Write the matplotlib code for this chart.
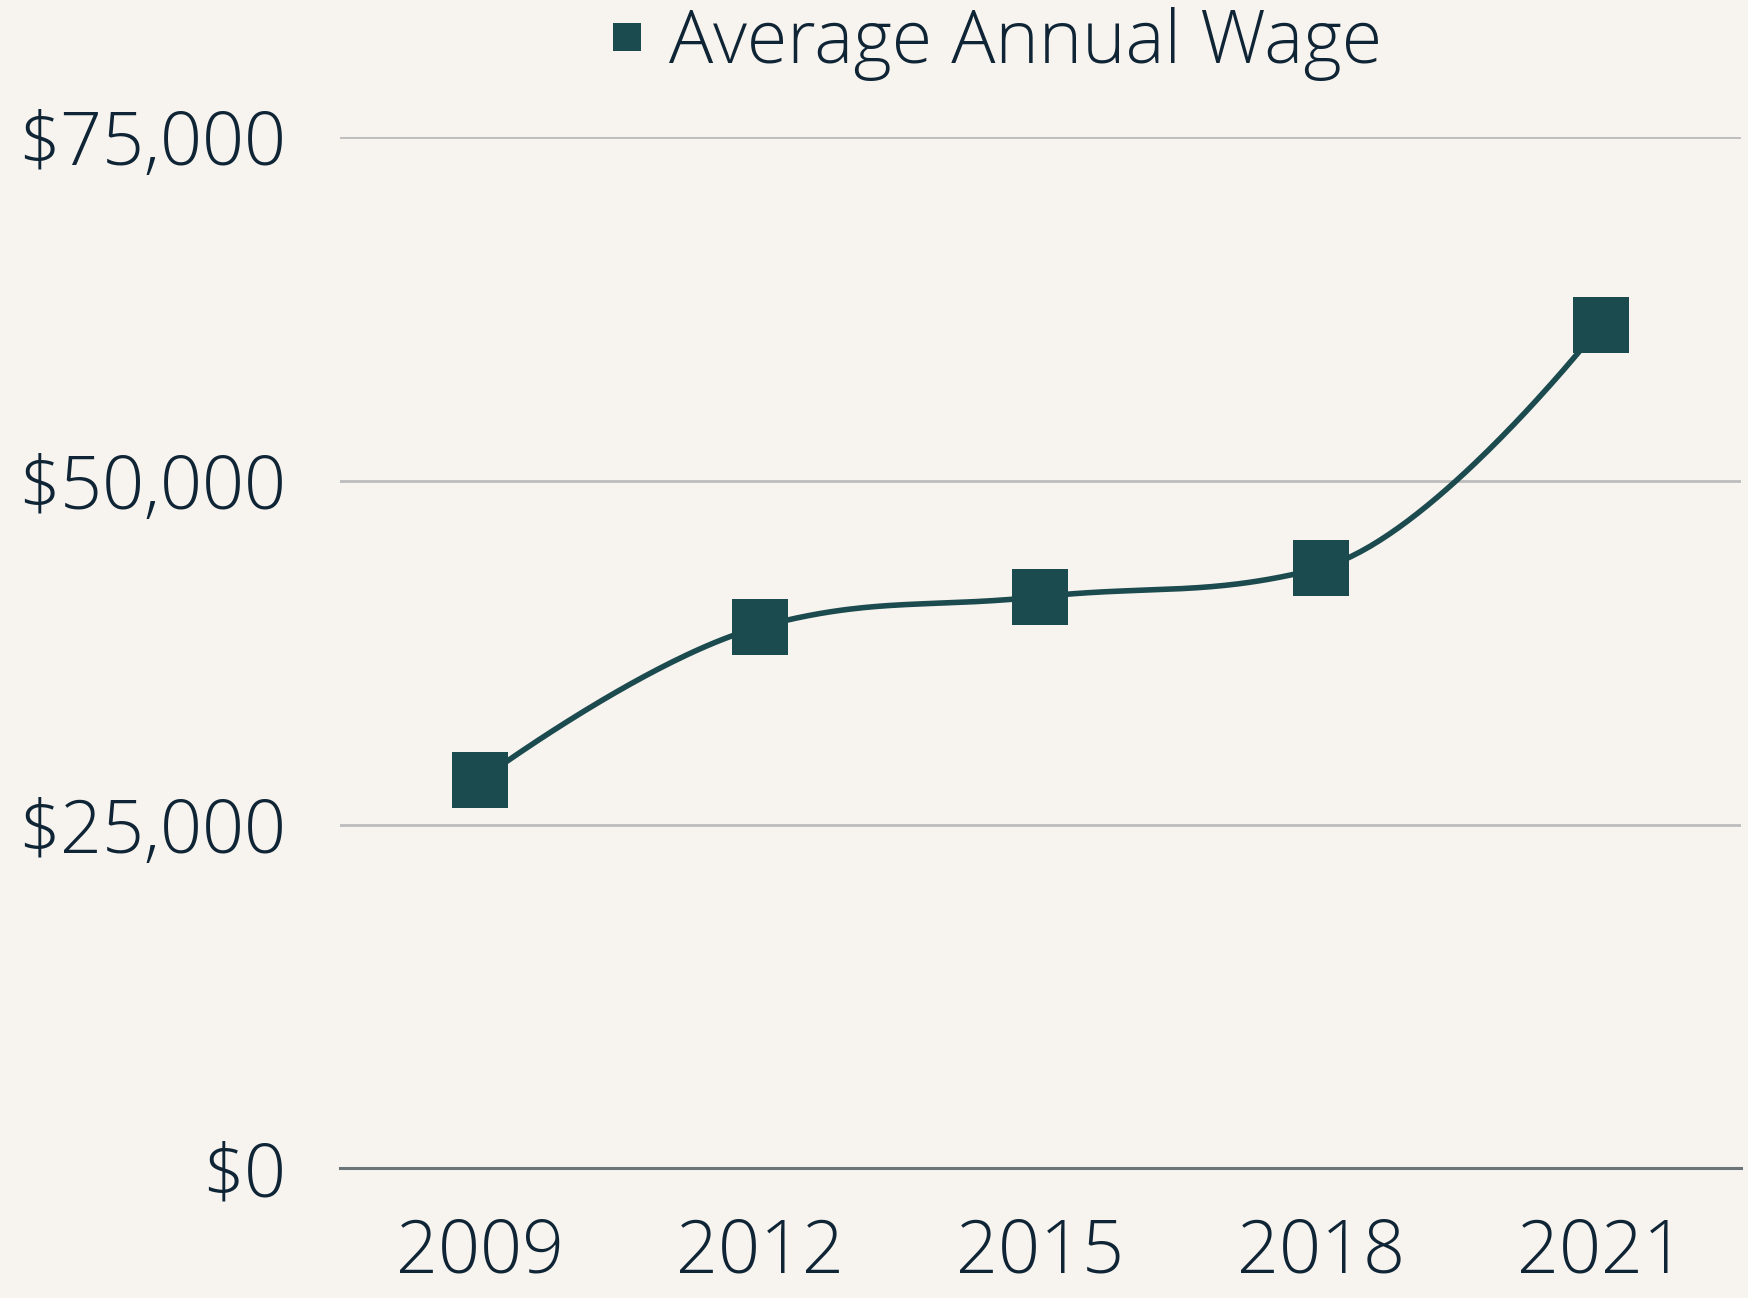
import numpy as np
import matplotlib
matplotlib.use("Agg")
import matplotlib.pyplot as plt
from matplotlib.lines import Line2D

# ---- data ----
years = ["2009", "2012", "2015", "2018", "2021"]
wages = [28230, 39390, 41580, 43670, 61330]
y_ticks = [0, 25000, 50000, 75000]
y_tick_labels = ["$0", "$25,000", "$50,000", "$75,000"]
series_name = "Average Annual Wage"

BG = "#F7F3EF"
TEAL = "#1B4A4F"
TEXT = "#0F2535"
GRID = "#BDBDBD"
ZERO = "#6B7579"

plt.rcParams['font.family'] = ['Open Sans', 'DejaVu Sans']

DPI = 100
fig = plt.figure(figsize=(17.48, 12.98), dpi=DPI, facecolor=BG)
ax = fig.add_axes([0.1945, 0.0999, 0.996 - 0.1945, 0.8943 - 0.0999])
ax.set_facecolor(BG)

x = np.arange(len(years), dtype=float)
y = np.array(wages, dtype=float)


def spline_path(xs, ys, smoothing=1.5, n=80):
    """Spline through the points using the classic charting-library
    control-point rule (smoothing 1.5, no false extremes)."""
    m = len(xs)
    denom = smoothing + 1
    lc = [(xs[i], ys[i]) for i in range(m)]
    rc = [(xs[i], ys[i]) for i in range(m)]
    for i in range(1, m - 1):
        lx, ly = xs[i - 1], ys[i - 1]
        px, py = xs[i], ys[i]
        nx, ny = xs[i + 1], ys[i + 1]
        lcx = (smoothing * px + lx) / denom
        lcy = (smoothing * py + ly) / denom
        rcx = (smoothing * px + nx) / denom
        rcy = (smoothing * py + ny) / denom
        corr = (rcy - lcy) * (rcx - px) / (rcx - lcx) + py - rcy
        lcy += corr
        rcy += corr
        if lcy > ly and lcy > py:
            lcy = max(ly, py)
            rcy = 2 * py - lcy
        elif lcy < ly and lcy < py:
            lcy = min(ly, py)
            rcy = 2 * py - lcy
        if rcy > ny and rcy > py:
            rcy = max(ny, py)
            lcy = 2 * py - rcy
        elif rcy < ny and rcy < py:
            rcy = min(ny, py)
            lcy = 2 * py - rcy
        lc[i] = (lcx, lcy)
        rc[i] = (rcx, rcy)
    X, Y = [], []
    u = np.linspace(0, 1, n)
    for i in range(m - 1):
        p0 = (xs[i], ys[i])
        p1 = rc[i]
        p2 = lc[i + 1]
        p3 = (xs[i + 1], ys[i + 1])
        b0 = (1 - u) ** 3
        b1 = 3 * (1 - u) ** 2 * u
        b2 = 3 * (1 - u) * u ** 2
        b3 = u ** 3
        X.extend(b0 * p0[0] + b1 * p1[0] + b2 * p2[0] + b3 * p3[0])
        Y.extend(b0 * p0[1] + b1 * p1[1] + b2 * p2[1] + b3 * p3[1])
    return np.array(X), np.array(Y)


cx, cy = spline_path(x, y)
ax.plot(cx, cy, color=TEAL, lw=4.0, solid_capstyle='butt', zorder=3)
ax.plot(x, y, linestyle='none', marker='s', markersize=41, color=TEAL,
        markeredgewidth=0, zorder=4)

ax.set_xlim(-0.5, len(years) - 0.5)
ax.set_ylim(0, 75000)
ax.set_xticks(x)
ax.set_xticklabels(years)
ax.set_yticks(y_ticks)
ax.set_yticklabels(y_tick_labels)

for v in y_ticks[1:]:
    ax.axhline(v, color=GRID, lw=2.0, zorder=1)
ax.axhline(0, color=ZERO, lw=2.2, zorder=2, clip_on=False)

for sp in ax.spines.values():
    sp.set_visible(False)
ax.tick_params(axis='both', length=0, labelsize=53, colors=TEXT)
ax.tick_params(axis='y', pad=39)
ax.tick_params(axis='x', pad=35)
for lab in ax.get_xticklabels() + ax.get_yticklabels():
    lab.set_fontweight('light')
    lab.set_color(TEXT)

handle = Line2D([], [], linestyle='none', marker='s', markersize=19.5,
                color=TEAL, markeredgewidth=0)
leg = fig.legend([handle], [series_name], loc='center',
                 bbox_to_anchor=(0.5686, 0.966), frameon=False,
                 prop={'size': 53, 'weight': 'light'},
                 handlelength=0.6, handletextpad=0.27, borderpad=0)
for txt in leg.get_texts():
    txt.set_color(TEXT)

fig.savefig("out.png", dpi=DPI, facecolor=BG)
